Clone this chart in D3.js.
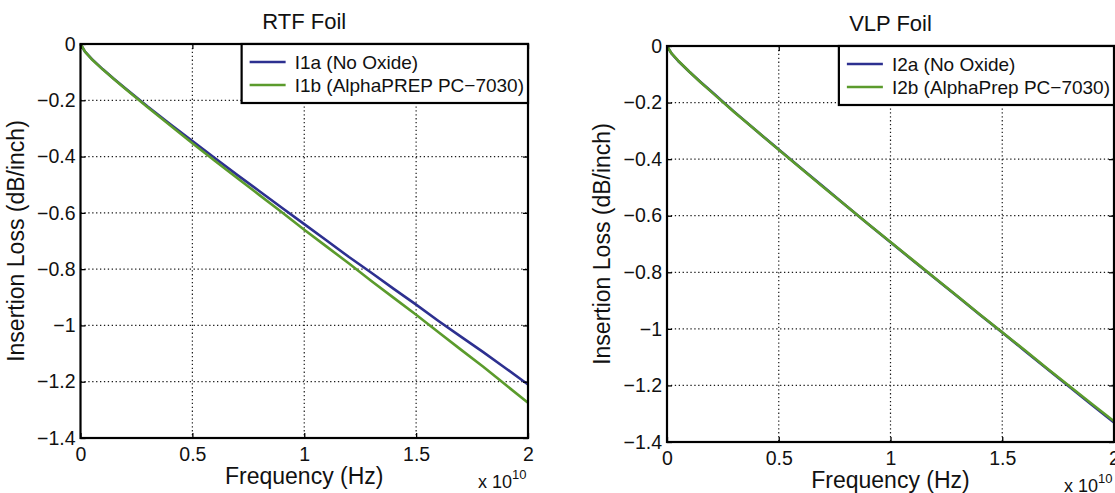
<!DOCTYPE html>
<html>
<head>
<meta charset="utf-8">
<script src="https://cdn.jsdelivr.net/npm/d3@7"></script>
<style>
  html, body { margin: 0; padding: 0; background: #fff; }
  svg { display: block; font-family: "Liberation Sans", Arial, Helvetica, sans-serif; }
</style>
</head>
<body>
<svg id="chart" width="1115" height="493"></svg>
<script>
// Frequency samples, in units of 10^10 Hz
const freq = [0, 0.02, 0.05, 0.1, 0.15, 0.2, 0.3, 0.4, 0.5, 0.6, 0.7, 0.8, 0.9,
              1.0, 1.1, 1.2, 1.3, 1.4, 1.5, 1.6, 1.7, 1.8, 1.9, 2.0];

// Insertion loss (dB/inch), RTF foil
const i1a = [0, -0.027, -0.053, -0.090, -0.124, -0.157, -0.222, -0.284, -0.345, -0.405, -0.465, -0.523,
             -0.582, -0.640, -0.698, -0.757, -0.813, -0.870, -0.926, -0.984, -1.040, -1.095, -1.152, -1.210];
const i1b = [0, -0.027, -0.054, -0.091, -0.125, -0.159, -0.225, -0.289, -0.353, -0.415, -0.476, -0.537,
             -0.598, -0.660, -0.720, -0.780, -0.842, -0.902, -0.962, -1.024, -1.086, -1.147, -1.211, -1.275];

// Insertion loss (dB/inch), VLP foil
const i2a = [0, -0.026, -0.053, -0.091, -0.127, -0.162, -0.232, -0.300, -0.366, -0.432, -0.498, -0.564,
             -0.629, -0.694, -0.758, -0.822, -0.886, -0.950, -1.013, -1.077, -1.141, -1.205, -1.268, -1.331];
const i2b = [0, -0.026, -0.052, -0.091, -0.128, -0.163, -0.233, -0.300, -0.367, -0.433, -0.499, -0.564,
             -0.629, -0.693, -0.757, -0.821, -0.885, -0.949, -1.012, -1.075, -1.139, -1.202, -1.265, -1.327];

const xTicks = [0, 0.5, 1, 1.5, 2];
const yTicks = [0, -0.2, -0.4, -0.6, -0.8, -1, -1.2, -1.4];

const panelTitles = ["RTF Foil", "VLP Foil"];
const legendRTF = ["I1a (No Oxide)", "I1b (AlphaPREP PC\u22127030)"];
const legendVLP = ["I2a (No Oxide)", "I2b (AlphaPrep PC\u22127030)"];
const xTitle = "Frequency (Hz)";
const yTitle = "Insertion Loss (dB/inch)";

const colors = ["#2d3090", "#5b9b2c"];

const svg = d3.select("#chart");

const panels = [
  { left: 80.5, top: 44, right: 528, bottom: 438, title: panelTitles[0], series: [i1a, i1b], labels: legendRTF },
  { left: 667, top: 46, right: 1114, bottom: 442, title: panelTitles[1], series: [i2a, i2b], labels: legendVLP }
];

const fmt = d3.format("");
const FONT = '"Liberation Sans", Arial, Helvetica, sans-serif';

panels.forEach(p => {
  const g = svg.append("g");
  const x = d3.scaleLinear().domain([0, 2]).range([p.left, p.right]);
  const y = d3.scaleLinear().domain([-1.4, 0]).range([p.bottom, p.top]);

  // dotted grid
  const grid = g.append("g").attr("stroke", "#1a1a1a").attr("stroke-width", 1.2)
    .attr("stroke-dasharray", "1.3,2.6");
  grid.selectAll(".gx").data(xTicks.slice(1, -1)).join("line")
    .attr("x1", d => x(d)).attr("x2", d => x(d))
    .attr("y1", p.top).attr("y2", p.bottom);
  grid.selectAll(".gy").data(yTicks.slice(1, -1)).join("line")
    .attr("x1", p.left).attr("x2", p.right)
    .attr("y1", d => y(d)).attr("y2", d => y(d));

  // curves
  const line = d3.line().x((d, i) => x(freq[i])).y(d => y(d));
  p.series.forEach((s, k) => {
    g.append("path").datum(s)
      .attr("d", line)
      .attr("fill", "none")
      .attr("stroke", colors[k])
      .attr("stroke-width", 2.6)
      .attr("stroke-linejoin", "round");
  });

  // axes with inward ticks
  const styleAxis = sel => {
    sel.select(".domain").remove();
    sel.selectAll(".tick line").attr("stroke", "#000").attr("stroke-width", 1.3);
    sel.selectAll(".tick text").attr("fill", "#111").style("font-size", "19.5px")
      .style("font-family", FONT);
  };
  g.append("g").attr("transform", `translate(0,${p.bottom})`)
    .call(d3.axisBottom(x).tickValues(xTicks).tickFormat(fmt).tickSizeInner(-5).tickSizeOuter(0).tickPadding(9))
    .call(styleAxis);
  g.append("g").attr("transform", `translate(${p.left},0)`)
    .call(d3.axisLeft(y).tickValues(yTicks).tickFormat(fmt).tickSizeInner(-5).tickSizeOuter(0).tickPadding(5))
    .call(styleAxis);
  g.append("g").attr("transform", `translate(0,${p.top})`)
    .call(d3.axisTop(x).tickValues(xTicks).tickFormat("").tickSizeInner(-5).tickSizeOuter(0))
    .call(styleAxis);
  g.append("g").attr("transform", `translate(${p.right},0)`)
    .call(d3.axisRight(y).tickValues(yTicks).tickFormat("").tickSizeInner(-5).tickSizeOuter(0))
    .call(styleAxis);

  // axes box
  g.append("rect")
    .attr("x", p.left).attr("y", p.top)
    .attr("width", p.right - p.left).attr("height", p.bottom - p.top)
    .attr("fill", "none").attr("stroke", "#000").attr("stroke-width", 2.2);

  // title and axis labels
  const cx = (p.left + p.right) / 2;
  g.append("text").attr("x", cx).attr("y", p.top - 15)
    .attr("text-anchor", "middle").style("font-size", "22px").attr("fill", "#111").text(p.title);
  g.append("text").attr("x", cx).attr("y", p.bottom + 46)
    .attr("text-anchor", "middle").style("font-size", "23px").attr("fill", "#111").text(xTitle);
  g.append("text")
    .attr("transform", `translate(${p.left - 57},${(p.top + p.bottom) / 2}) rotate(-90)`)
    .attr("text-anchor", "middle").style("font-size", "23px").attr("fill", "#111").text(yTitle);

  // x 10^10 multiplier
  const mult = g.append("text").attr("x", p.right - 50).attr("y", p.bottom + 50)
    .style("font-size", "18px").attr("fill", "#111");
  mult.append("tspan").text("x 10");
  mult.append("tspan").attr("dy", -9).style("font-size", "13px").text("10");

  // legend anchored at the top-right corner
  const lg = g.append("g");
  const box = lg.append("rect").attr("fill", "#fff").attr("stroke", "#000").attr("stroke-width", 2.2);
  const texts = p.labels.map((lab, k) => lg.append("text")
    .style("font-size", "19px").attr("fill", "#111").attr("dy", "0.35em").text(lab));
  const tw = d3.max(texts, t => t.node().getComputedTextLength());
  const bw = 8 + 36 + 9 + tw + 4;
  const bh = 59;
  const bx = p.right - bw;
  const by = p.top;
  box.attr("x", bx).attr("y", by).attr("width", bw).attr("height", bh);
  p.labels.forEach((lab, k) => {
    const ry = by + 18 + k * 23;
    lg.append("line").attr("x1", bx + 8).attr("x2", bx + 44).attr("y1", ry).attr("y2", ry)
      .attr("stroke", colors[k]).attr("stroke-width", 2.6);
    texts[k].attr("x", bx + 53).attr("y", ry);
  });
});
</script>
</body>
</html>
